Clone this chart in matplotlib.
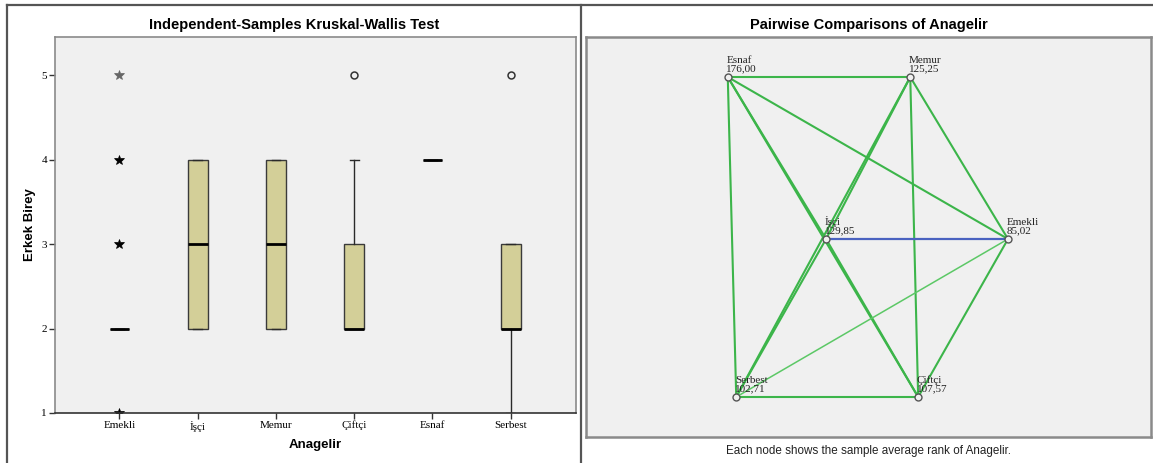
import matplotlib
matplotlib.use("Agg")
import matplotlib.pyplot as plt
from matplotlib.lines import Line2D

# Box plot data (Erkek Birey by Anagelir)
categories = ["Emekli", "İşçi", "Memur", "Çiftçi", "Esnaf", "Serbest"]
q1 = [2, 2, 2, 2, 4, 2]
medians = [2, 3, 3, 2, 4, 2]
q3 = [2, 4, 4, 3, 4, 3]
whis_lo = [2, 2, 2, 2, 4, 1]
whis_hi = [2, 4, 4, 4, 4, 3]
outliers = [[], [], [], [5], [], [5]]        # circles
extremes = [[1, 3, 4, 5], [], [], [], [], []]  # stars

# Pairwise comparison data
node_names = ["Esnaf", "Memur", "İşçi", "Emekli", "Serbest", "Çiftçi"]
mean_ranks = ["176,00", "125,25", "129,85", "85,02", "102,71", "107,57"]
significant_pairs = [("İşçi", "Emekli")]

BOX_COLOR = "#d3cf98"
PANEL_BG = "#f0f0f0"
GREEN = "#3cb54a"
BLUE = "#4a62c0"
SERIF = "Liberation Serif"
SANS = "Liberation Sans"

fig = plt.figure(figsize=(11.53, 4.63), dpi=100)

# ---------- left panel: boxplot ----------
ax = fig.add_axes([0.0473, 0.108, 0.452, 0.812])
ax.set_facecolor(PANEL_BG)
stats = []
for i, name in enumerate(categories):
    stats.append(dict(label=name, med=medians[i], q1=q1[i], q3=q3[i],
                      whislo=whis_lo[i], whishi=whis_hi[i], fliers=[]))
ax.bxp(stats, positions=range(len(categories)), widths=0.25, patch_artist=True,
       showfliers=False,
       boxprops=dict(facecolor=BOX_COLOR, edgecolor="#3a3a3a", linewidth=1.0),
       medianprops=dict(color="black", linewidth=2.0),
       whiskerprops=dict(color="#2a2a2a", linewidth=1.0),
       capprops=dict(color="#2a2a2a", linewidth=1.0), capwidths=0.11)

for i, vals in enumerate(outliers):
    if vals:
        ax.plot([i] * len(vals), vals, "o", ms=5, mfc="none", mec="#333333", mew=1.1)
for i, vals in enumerate(extremes):
    for v in vals:
        col = "#666666" if v == max(vals) else "black"
        ax.plot(i, v, "*", ms=7, color=col, mec=col, mew=0.5)

ax.set_xlim(-0.83, 5.83)
ax.set_ylim(1, 5.45)
ax.set_yticks([1, 2, 3, 4, 5])
ax.set_yticklabels(["1", "2", "3", "4", "5"], fontfamily=SERIF, fontsize=8)
ax.set_xticks(range(len(categories)))
ax.set_xticklabels(categories, fontfamily=SERIF, fontsize=8)
ax.tick_params(axis="both", length=4, width=1, color="#333333", pad=1.5)
for side in ["top", "left", "right"]:
    ax.spines[side].set_color("#8a8a8a")
    ax.spines[side].set_linewidth(1.2)
ax.spines["bottom"].set_color("#333333")
ax.spines["bottom"].set_linewidth(1.2)
ax.set_ylabel("Erkek Birey", fontfamily=SANS, fontsize=9.5, fontweight="bold", labelpad=3.5)
ax.set_xlabel("Anagelir", fontfamily=SANS, fontsize=9.5, fontweight="bold", labelpad=5)
fig.text(0.2555, 1 - 25 / 463, "Independent-Samples Kruskal-Wallis Test",
         ha="center", va="center", fontfamily=SANS, fontsize=10.5, fontweight="bold")

# ---------- right panel: pairwise comparisons ----------
ax2 = fig.add_axes([0.5082, 0.0562, 0.490, 0.8638])
ax2.set_facecolor(PANEL_BG)
ax2.set_xlim(0, 1)
ax2.set_ylim(0, 1)
ax2.set_xticks([])
ax2.set_yticks([])
for s in ax2.spines.values():
    s.set_color("#8a8a8a")
    s.set_linewidth(1.8)

# node layout inside the panel (axes fractions)
layout = {"Esnaf": (0.251, 0.900), "Memur": (0.574, 0.900), "İşçi": (0.425, 0.495),
          "Emekli": (0.747, 0.495), "Serbest": (0.266, 0.100), "Çiftçi": (0.588, 0.100)}
thin_pairs = [("Emekli", "Serbest")]

for a in range(len(node_names)):
    for b in range(a + 1, len(node_names)):
        na, nb = node_names[a], node_names[b]
        xa, ya = layout[na]
        xb, yb = layout[nb]
        sig = (na, nb) in significant_pairs or (nb, na) in significant_pairs
        thin = (na, nb) in thin_pairs or (nb, na) in thin_pairs
        if sig:
            ax2.plot([xa, xb], [ya, yb], color=BLUE, lw=1.6, zorder=3)
        elif thin:
            ax2.plot([xa, xb], [ya, yb], color="#5cc866", lw=1.1, zorder=2)
        else:
            ax2.plot([xa, xb], [ya, yb], color=GREEN, lw=1.5, zorder=2)

for name, rank in zip(node_names, mean_ranks):
    x, y = layout[name]
    ax2.plot(x, y, "o", ms=5, mfc=PANEL_BG, mec="#555555", mew=1.0, zorder=4)
    ax2.annotate(f"{name}\n{rank}", (x, y), xytext=(-1, 3), textcoords="offset points",
                 ha="left", va="bottom", fontfamily=SERIF, fontsize=8,
                 color="#222222", linespacing=0.9, zorder=5)

fig.text(0.7533, 1 - 25 / 463, "Pairwise Comparisons of Anagelir",
         ha="center", va="center", fontfamily=SANS, fontsize=10.5, fontweight="bold")
fig.text(0.7533, 1 - 451 / 463, "Each node shows the sample average rank of Anagelir.",
         ha="center", va="center", fontfamily=SANS, fontsize=8.4, color="#222222")

# outer frames
frame = dict(color="#555555", lw=1.6, transform=fig.transFigure)
fig.add_artist(Line2D([7 / 1153, 1], [1 - 5 / 463, 1 - 5 / 463], **frame))
fig.add_artist(Line2D([7 / 1153, 7 / 1153], [0, 1 - 5 / 463], **frame))
fig.add_artist(Line2D([581 / 1153, 581 / 1153], [0, 1 - 5 / 463], **frame))

fig.savefig("out.png", dpi=100)
